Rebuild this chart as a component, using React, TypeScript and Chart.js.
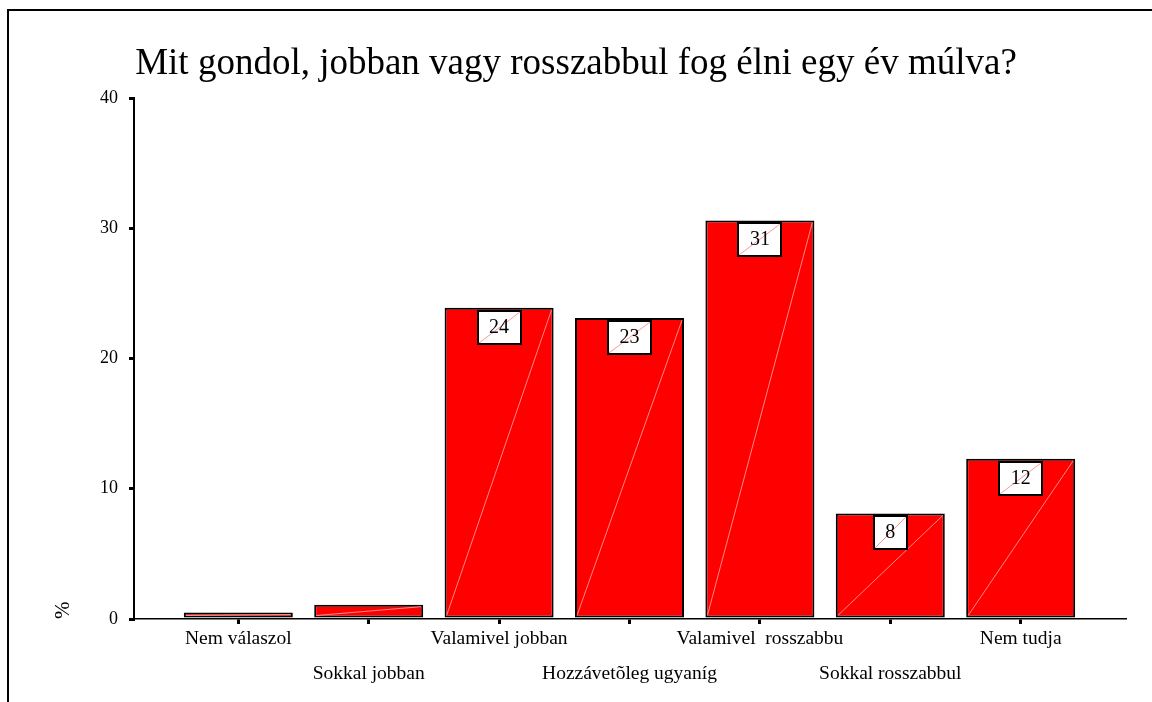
import React, { useEffect, useRef } from 'react';
import { Chart, registerables } from 'chart.js';

Chart.register(...registerables);

const categories = [
  'Nem válaszol',
  'Sokkal jobban',
  'Valamivel jobban',
  'Hozzávetõleg ugyaníg',
  'Valamivel  rosszabbu',
  'Sokkal rosszabbul',
  'Nem tudja',
];
const percentValues = [0.5, 1.1, 23.9, 23.1, 30.6, 8.1, 12.3];
const valueLabels = ['', '', '24', '23', '31', '8', '12'];
const yTickValues = [0, 10, 20, 30, 40];
const titleText = 'Mit gondol, jobban vagy rosszabbul fog élni egy év múlva?';
const yAxisTitle = '%';

const FAMILY = "'Liberation Serif', 'Times New Roman', serif";

const barDecor = {
  id: 'barDecor',
  afterDatasetsDraw(chart: any) {
    const ctx = chart.ctx as CanvasRenderingContext2D;
    const meta = chart.getDatasetMeta(0);
    meta.data.forEach((el: any, i: number) => {
      const { x, y, base, width } = el.getProps(['x', 'y', 'base', 'width'], true);
      const l = x - width / 2;
      const r = x + width / 2;
      ctx.save();
      ctx.strokeStyle = 'rgba(255,150,150,0.9)';
      ctx.lineWidth = 1;
      ctx.beginPath();
      ctx.moveTo(l + 2, base - 2);
      ctx.lineTo(r - 2, y + 2);
      ctx.stroke();
      const label = valueLabels[i];
      if (label) {
        ctx.font = `20px ${FAMILY}`;
        const tw = ctx.measureText(label).width;
        const bw = Math.round(tw + 23);
        const bh = 33;
        const bx = Math.round(x - bw / 2);
        const by = Math.round(y + 3);
        ctx.fillStyle = '#fff';
        ctx.fillRect(bx, by, bw, bh);
        ctx.strokeStyle = 'rgba(255,150,150,1)';
        ctx.lineWidth = 1;
        ctx.beginPath();
        ctx.moveTo(bx + 1, by + bh - 1);
        ctx.lineTo(bx + bw - 1, by + 1);
        ctx.stroke();
        ctx.strokeStyle = '#000';
        ctx.lineWidth = 2;
        ctx.strokeRect(bx, by, bw, bh);
        ctx.fillStyle = '#000';
        ctx.textAlign = 'center';
        ctx.textBaseline = 'middle';
        ctx.fillText(label, x, by + 17);
      }
      ctx.restore();
    });
  },
};

export default function App() {
  const canvasRef = useRef<HTMLCanvasElement | null>(null);

  useEffect(() => {
    const canvas = canvasRef.current;
    if (!canvas) return;
    const chart = new Chart(canvas, {
      type: 'bar',
      data: {
        datasets: [
          {
            data: percentValues.map((v, i) => ({ x: i, y: v })),
            backgroundColor: '#ff0000',
            borderColor: '#000000',
            borderWidth: 2,
            borderSkipped: false,
            barPercentage: 0.836,
            categoryPercentage: 1,
          },
        ],
      },
      options: {
        responsive: false,
        animation: false,
        devicePixelRatio: 1,
        layout: { padding: { left: 27, right: 27, top: 0, bottom: 0 } },
        plugins: {
          legend: { display: false },
          tooltip: { enabled: false },
          title: {
            display: true,
            text: titleText,
            color: '#000',
            font: { family: FAMILY, size: 37, weight: 'normal', lineHeight: 1.2 },
            padding: { top: 42, bottom: 11.6 },
          },
        },
        scales: {
          x: {
            type: 'linear',
            offset: false,
            min: -0.8,
            max: 6.8,
            afterBuildTicks: (s: any) => {
              s.ticks = categories.map((_, i) => ({ value: i }));
            },
            afterFit: (s: any) => {
              s.height = 83;
            },
            grid: {
              display: true,
              offset: false,
              drawOnChartArea: false,
              drawTicks: true,
              tickLength: 5,
              lineWidth: 3,
              color: '#000',
            },
            border: { display: true, color: '#000', width: 1.5 },
            ticks: {
              autoSkip: false,
              maxRotation: 0,
              minRotation: 0,
              padding: -2.5,
              color: '#000',
              font: { family: FAMILY, size: 19.5, lineHeight: 35 / 19.5 },
              callback: (v: any) => {
                const i = Math.round(Number(v));
                return i % 2 === 0 ? [categories[i]] : ['', categories[i]];
              },
            },
          },
          y: {
            min: 0,
            max: 40,
            afterBuildTicks: (s: any) => {
              s.ticks = yTickValues.map((v) => ({ value: v }));
            },
            afterFit: (s: any) => {
              s.width = 107;
            },
            grid: {
              drawOnChartArea: false,
              drawTicks: true,
              tickLength: 5,
              lineWidth: 3,
              color: '#000',
            },
            border: { display: true, color: '#000', width: 2 },
            ticks: {
              padding: 11,
              color: '#000',
              font: { family: FAMILY, size: 18 },
            },
            title: {
              display: true,
              text: yAxisTitle,
              align: 'start',
              color: '#000',
              font: { family: FAMILY, size: 21 },
              padding: { top: 24, bottom: 0 },
            },
          },
        },
      },
      plugins: [barDecor],
    } as any);
    return () => chart.destroy();
  }, []);

  return (
    <>
      <div
        style={{
          position: 'absolute',
          left: 7,
          top: 9,
          width: 1145,
          height: 693,
          boxSizing: 'border-box',
          borderTop: '2px solid #000',
          borderLeft: '2px solid #000',
        }}
      />
      <canvas
        ref={canvasRef}
        width={1152}
        height={702}
        style={{ position: 'absolute', left: 0, top: 0, width: 1152, height: 702 }}
      />
    </>
  );
}
